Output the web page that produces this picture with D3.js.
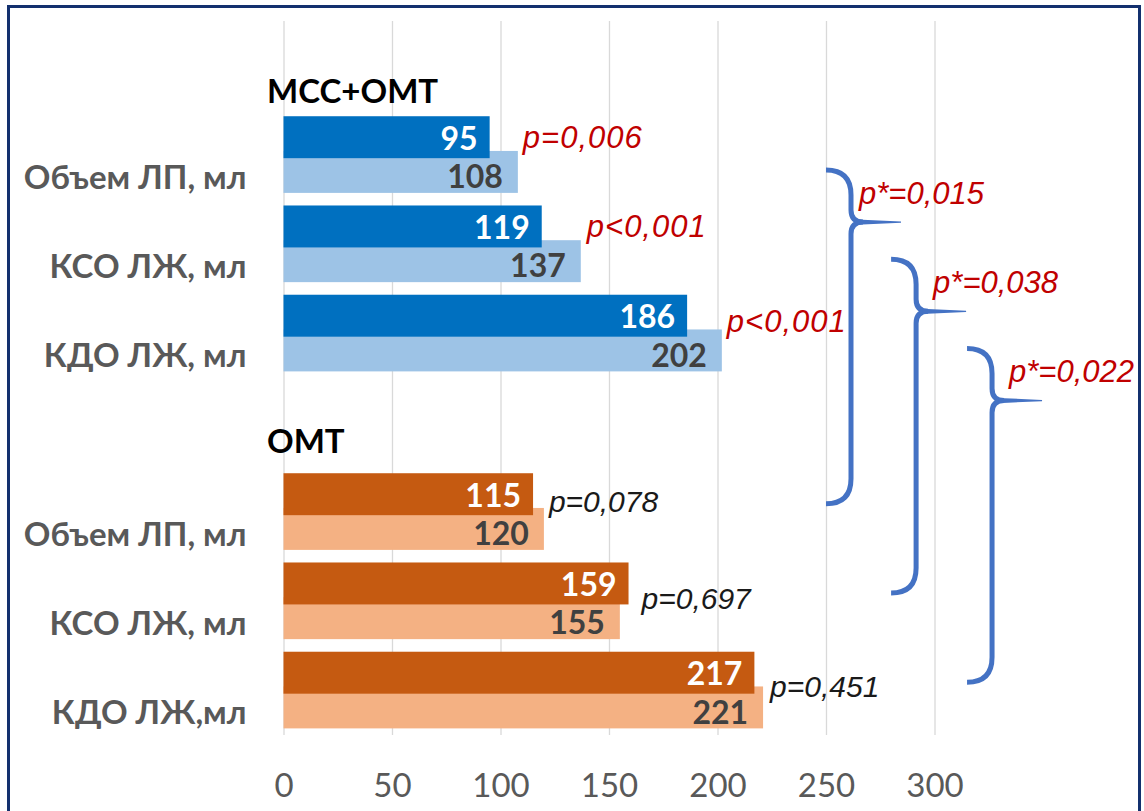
<!DOCTYPE html>
<html>
<head>
<meta charset="utf-8">
<script src="https://cdn.jsdelivr.net/npm/d3@7"></script>
<style>
  body { margin: 0; background: #fff; }
  svg { display: block; }
</style>
</head>
<body>
<svg id="chart" width="1144" height="811"></svg>
<script>
// ---- data ----
const groupTitles = ["МСС+ОМТ", "ОМТ"];
const mssLabels = ["Объем ЛП, мл", "КСО ЛЖ, мл", "КДО ЛЖ, мл"];
const omtLabels = ["Объем ЛП, мл", "КСО ЛЖ, мл", "КДО ЛЖ,мл"];
const mssUpper = [95, 119, 186];
const mssLower = [108, 137, 202];
const omtUpper = [115, 159, 217];
const omtLower = [120, 155, 221];
const mssP = ["p=0,006", "p<0,001", "p<0,001"];
const omtP = ["p=0,078", "p=0,697", "p=0,451"];
const betweenP = ["p*=0,015", "p*=0,038", "p*=0,022"];
const xTicks = [0, 50, 100, 150, 200, 250, 300];

// ---- styling / layout ----
const palette = [
  { upper: "#0070C0", lower: "#9DC3E6", p: "#C00000" },
  { upper: "#C55A11", lower: "#F4B183", p: "#1a1a1a" }
];
const pNudge = [
  [[5, 0.31], [6, 0.30], [5, 0.37]],
  [[5, 0.385], [13, 0.465], [7, 0.457]]
];
const headingPos = [0.77, 0.70];        // heading centre within its slot
const braceHook = [250, 280, 315];      // x (axis units) where each brace hooks start
const braceLabelDx = [8, 17, 17];
const braceColor = "#4472C4";
const labelFont = "Lato, 'Open Sans', sans-serif";
const pFont = "'Liberation Sans', Arial, sans-serif";

const groups = [
  { title: groupTitles[0], labels: mssLabels, upper: mssUpper, lower: mssLower, p: mssP },
  { title: groupTitles[1], labels: omtLabels, upper: omtUpper, lower: omtLower, p: omtP }
];

// one slot for each group heading, then one per parameter
const slots = [];
groups.forEach((g, gi) => {
  slots.push(`h${gi}`);
  g.labels.forEach((_, i) => slots.push(`r${gi}-${i}`));
});

const svg = d3.select("#chart");

const x = d3.scaleLinear().domain([0, 300]).range([283.5, 934.5]);
const y = d3.scaleBand().domain(slots).range([21, 735]).paddingInner(0).paddingOuter(0);
const bw = y.bandwidth();

// frame
svg.append("rect")
  .attr("x", 8.5).attr("y", 6.5).attr("width", 1131).attr("height", 840)
  .attr("fill", "#fff").attr("stroke", "#13306e").attr("stroke-width", 3);

// vertical grid + tick labels
const xAxis = d3.axisBottom(x).tickValues(xTicks).tickSize(-(735 - 21)).tickFormat(d3.format("d"));
const gx = svg.append("g").attr("transform", "translate(0,735)").call(xAxis);
gx.select(".domain").remove();
gx.selectAll(".tick line").attr("stroke", "#d9d9d9").attr("stroke-width", 1.3);
gx.selectAll(".tick text")
  .attr("fill", "#595959")
  .attr("font-family", labelFont)
  .attr("font-size", 33)
  .attr("dy", "0.35em")
  .attr("y", 50);

// bars
groups.forEach((g, gi) => {
  const col = palette[gi];
  const rows = g.labels.map((label, i) => ({
    key: `r${gi}-${i}`, label, upper: g.upper[i], lower: g.lower[i], p: g.p[i], i
  }));
  const layer = svg.append("g");

  // heading
  layer.append("text")
    .attr("x", x(0) - 16.5)
    .attr("y", y(`h${gi}`) + bw * headingPos[gi])
    .attr("dominant-baseline", "central")
    .attr("font-family", labelFont).attr("font-weight", 700).attr("font-size", 33)
    .attr("fill", "#000")
    .text(g.title);

  // lower (lighter) bars first, upper bars overlap them
  layer.selectAll(".lower").data(rows).join("rect")
    .attr("x", x(0))
    .attr("y", d => y(d.key) + bw * 0.456)
    .attr("width", d => x(d.lower) - x(0))
    .attr("height", bw * 0.47)
    .attr("fill", col.lower);

  layer.selectAll(".upper").data(rows).join("rect")
    .attr("x", x(0))
    .attr("y", d => y(d.key) + bw * 0.067)
    .attr("width", d => x(d.upper) - x(0))
    .attr("height", bw * 0.47)
    .attr("fill", col.upper);

  // value labels
  layer.selectAll(".vu").data(rows).join("text")
    .attr("x", d => x(d.upper) - 12)
    .attr("y", d => y(d.key) + bw * (0.067 + 0.235))
    .attr("text-anchor", "end").attr("dominant-baseline", "central")
    .attr("font-family", labelFont).attr("font-weight", 700).attr("font-size", 32)
    .attr("fill", "#fff")
    .text(d => d.upper);

  layer.selectAll(".vl").data(rows).join("text")
    .attr("x", d => x(d.lower) - 15)
    .attr("y", d => y(d.key) + bw * 0.732)
    .attr("text-anchor", "end").attr("dominant-baseline", "central")
    .attr("font-family", labelFont).attr("font-weight", 700).attr("font-size", 32)
    .attr("fill", "#404040")
    .text(d => d.lower);

  // category labels
  layer.selectAll(".cat").data(rows).join("text")
    .attr("x", x(0) - 37)
    .attr("y", d => y(d.key) + bw * 0.5 + 21)
    .attr("text-anchor", "end").attr("dominant-baseline", "central")
    .attr("font-family", labelFont).attr("font-weight", 700).attr("font-size", 33)
    .attr("fill", "#595959")
    .text(d => d.label);

  // within-group p-values
  layer.selectAll(".pv").data(rows).join("text")
    .attr("x", d => x(Math.max(d.upper, d.lower)) + pNudge[gi][d.i][0])
    .attr("y", d => y(d.key) + bw * pNudge[gi][d.i][1])
    .attr("dominant-baseline", "central")
    .attr("font-family", pFont).attr("font-style", "italic")
    .attr("font-size", gi === 0 ? 31 : 30)
    .attr("letter-spacing", gi === 0 ? 1 : 0)
    .attr("fill", col.p)
    .text(d => d.p);
});

// between-group braces
const braceG = svg.append("g");
betweenP.forEach((label, i) => {
  const h = x(braceHook[i]);
  const s = h + 25;          // spine
  const t = s + 50;          // tip
  const top = y(`r0-${i}`) + bw * 0.67;
  const bottom = y(`r1-${i}`) + bw * 0.41;
  const mid = top + 52;
  const r = 25, r2 = 12;
  const path =
    `M${h},${top} Q${s},${top} ${s},${top + r} L${s},${mid - r2} Q${s},${mid} ${s + r2},${mid}` +
    ` M${s + r2},${mid} Q${s},${mid} ${s},${mid + r2} L${s},${bottom - r} Q${s},${bottom} ${h},${bottom}`;
  braceG.append("path")
    .attr("d", path)
    .attr("fill", "none")
    .attr("stroke", braceColor)
    .attr("stroke-width", 5)
    .attr("stroke-linecap", "butt");
  braceG.append("path")
    .attr("d", `M${s + 6},${mid - 2.6} L${t},${mid - 0.6} L${t},${mid + 0.6} L${s + 6},${mid + 2.6} Z`)
    .attr("fill", braceColor);
  braceG.append("text")
    .attr("x", s + braceLabelDx[i])
    .attr("y", mid - 29)
    .attr("dominant-baseline", "central")
    .attr("font-family", pFont).attr("font-style", "italic").attr("font-size", 31)
    .attr("fill", "#C00000")
    .text(label);
});
</script>
</body>
</html>
